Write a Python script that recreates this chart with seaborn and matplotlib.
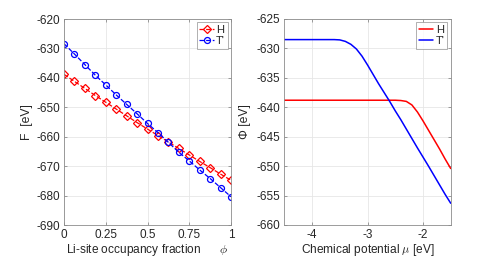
import matplotlib
matplotlib.use("Agg")
import matplotlib.pyplot as plt
import numpy as np
import pandas as pd
import seaborn as sns

# left panel: free energy vs Li-site occupancy (17 configurations)
PHI = [0, 1 / 16, 2 / 16, 3 / 16, 4 / 16, 5 / 16, 6 / 16, 7 / 16, 8 / 16,
       9 / 16, 10 / 16, 11 / 16, 12 / 16, 13 / 16, 14 / 16, 15 / 16, 1]
F_H = [-638.8, -641.2, -643.6, -646.0, -648.3, -650.6, -652.9, -655.2, -657.4,
       -659.6, -661.8, -664.0, -666.2, -668.4, -670.5, -672.7, -674.8]
F_T = [-628.4, -631.9, -635.5, -639.1, -642.4, -645.8, -649.0, -652.2, -655.5,
       -658.6, -661.9, -665.3, -668.2, -671.3, -674.2, -677.3, -680.4]

# right panel: grand potential vs chemical potential
MU = [-4.5, -4.0, -3.6, -3.5, -3.4, -3.3, -3.2, -3.1, -3.0, -2.9, -2.8, -2.7,
      -2.6, -2.5, -2.4, -2.3, -2.2, -2.1, -2.0, -1.9, -1.8, -1.7, -1.6, -1.5]
PHI_H = [-638.8, -638.8, -638.8, -638.8, -638.8, -638.8, -638.8, -638.8, -638.8,
         -638.8, -638.8, -638.8, -638.8, -638.8, -638.85, -639.0, -639.6, -640.8,
         -642.3, -643.9, -645.5, -647.1, -648.8, -650.4]
PHI_T = [-628.5, -628.5, -628.5, -628.55, -628.8, -629.3, -630.1, -631.3, -632.8,
         -634.4, -636.0, -637.5, -639.0, -640.6, -642.1, -643.7, -645.3, -646.9,
         -648.45, -650.0, -651.6, -653.2, -654.8, -656.3]

RED = "#ff0000"
BLUE = "#0000ff"

sns.set_theme(style="whitegrid")
plt.rcParams["font.family"] = ["Liberation Sans", "DejaVu Sans"]
plt.rcParams["mathtext.fontset"] = "cm"
plt.rcParams["axes.unicode_minus"] = False

fig = plt.figure(figsize=(4.98, 2.57), dpi=100)
ax1 = fig.add_axes([64 / 498, 32 / 257, 167 / 498, 206 / 257])
ax2 = fig.add_axes([284.3 / 498, 32 / 257, 166.4 / 498, 206 / 257])

left = pd.DataFrame({"phi": PHI, "H": F_H, "T": F_T})
right = pd.DataFrame({"mu": MU, "H": PHI_H, "T": PHI_T})

sns.lineplot(data=left, x="phi", y="H", ax=ax1, color=RED, linestyle="--", lw=0.9,
             marker="D", markersize=3.8, markerfacecolor="none", markeredgecolor=RED,
             markeredgewidth=0.9, label="H")
sns.lineplot(data=left, x="phi", y="T", ax=ax1, color=BLUE, linestyle="--", lw=0.9,
             marker="o", markersize=4.3, markerfacecolor="none", markeredgecolor=BLUE,
             markeredgewidth=0.9, label="T'")
sns.lineplot(data=right, x="mu", y="H", ax=ax2, color=RED, lw=1.1, label="H")
sns.lineplot(data=right, x="mu", y="T", ax=ax2, color=BLUE, lw=1.1, label="T'")

ax1.set_xlim(0, 1)
ax1.set_ylim(-690, -620)
ax1.set_xticks([0, 0.25, 0.5, 0.75, 1])
ax1.set_xticklabels(["0", "0.25", "0.5", "0.75", "1"])
ax1.set_yticks(np.arange(-690, -619, 10))
ax1.set_xlabel(r"Li-site occupancy fraction      $\phi$")
ax1.set_ylabel("F  [eV]")

ax2.set_xlim(-4.5, -1.5)
ax2.set_ylim(-660, -625)
ax2.set_xticks([-4, -3, -2])
ax2.set_yticks(np.arange(-660, -624, 5))
ax2.set_xlabel(r"Chemical potential $\mu$ [eV]")
ax2.set_ylabel("Φ [eV]")

for ax in (ax1, ax2):
    ax.set_facecolor("white")
    ax.grid(True, color="#e6e6e6", lw=0.6)
    for s in ax.spines.values():
        s.set_visible(True)
        s.set_color("#8c8c8c")
        s.set_linewidth(0.6)
    ax.tick_params(direction="in", length=2.5, width=0.6, color="#8c8c8c",
                   labelsize=8.5, labelcolor="#262626", pad=3,
                   top=True, right=True, bottom=True, left=True)
    ax.tick_params(axis="both", which="major", labeltop=False, labelright=False)
    ax.xaxis.label.set_size(8.6)
    ax.yaxis.label.set_size(8.8)
    ax.xaxis.label.set_color("#262626")
    ax.yaxis.label.set_color("#262626")
    ax.xaxis.labelpad = 0.5
    leg = ax.legend(loc="upper right", fontsize=8, frameon=True, fancybox=False,
                    handlelength=1.3, handletextpad=0.2, borderpad=0.25,
                    labelspacing=0.1, borderaxespad=0.3)
    leg.get_frame().set_edgecolor("#8c8c8c")
    leg.get_frame().set_linewidth(0.6)

ax1.yaxis.set_label_coords(-0.186, 0.5)
ax2.yaxis.set_label_coords(-0.2, 0.5)

fig.savefig("out.png", dpi=100)
